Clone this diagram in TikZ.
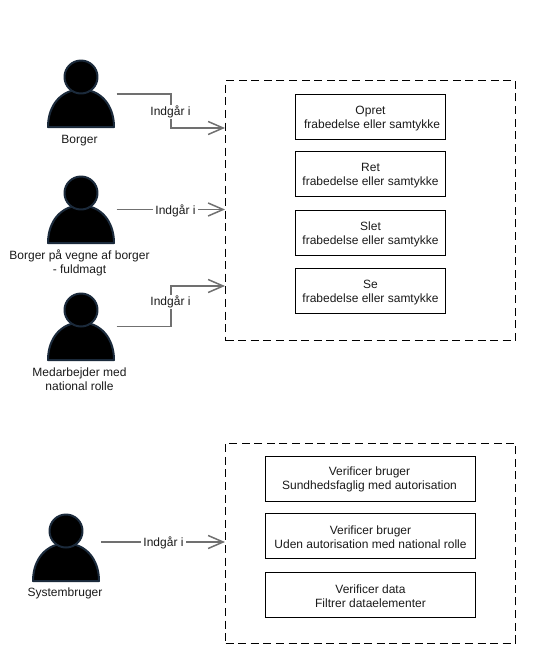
\documentclass[tikz,border=0pt]{standalone}
\usepackage{fontspec}
\setmainfont{Liberation Sans}
\usetikzlibrary{arrows.meta}
\definecolor{outl}{HTML}{1B2A3B}
\definecolor{conn}{HTML}{707070}
\definecolor{txt}{HTML}{1A1A1A}
\tikzset{
  x=1pt,y=-1pt,
  every node/.style={font=\fontsize{12}{14}\selectfont,text=txt,align=center,inner sep=0pt,outer sep=0pt},
  frame/.style={draw=black,line width=0.9pt,dash pattern=on 8pt off 4.6pt,minimum width=290pt},
  actionbox/.style={draw=black,line width=0.9pt,minimum height=45pt},
  smallbox/.style={actionbox,minimum width=150pt},
  widebox/.style={actionbox,minimum width=210pt},
  boxtext/.style={yshift=-1.6pt},
  lowtext/.style={yshift=-0.8pt},
  persona/.style={minimum width=71pt,minimum height=67pt},
  persbody/.style={fill=black,draw=outl,line width=2pt,line join=round},
  link/.style={draw=conn,line width=1.8pt,-{Straight Barb[length=15pt,width=13pt,line width=1.5pt]}},
  lbl/.style={fill=white,inner xsep=2pt,inner ysep=1pt},
}
\newcommand{\drawperson}[2]{%
  \path[persbody] (#1-33,#2+33.5) .. controls (#1-33,#2+12) and (#1-20,#2-4) .. (#1,#2-4)
    .. controls (#1+20,#2-4) and (#1+33,#2+12) .. (#1+33,#2+33.5) -- cycle;
  \path[persbody] (#1,#2-16.5) circle[radius=16.5];
}
\begin{document}
\begin{tikzpicture}
\useasboundingbox (0,0) rectangle (535,662);
% frames
\node[frame,minimum height=260pt] (frameA) at (370.5,210.5) {};
\node[frame,minimum height=200pt] (frameB) at (370.5,543) {};
% action boxes
\node[smallbox] (opret) at (370.5,117) {};
\node[smallbox] (ret) at (370.5,174) {};
\node[smallbox] (slet) at (370.5,233) {};
\node[smallbox] (se) at (370.5,291) {};
\node[widebox] (verA) at (370.5,479) {};
\node[widebox] (verB) at (370.5,536) {};
\node[widebox] (verC) at (370.5,595) {};
\node[boxtext] (opretT) at (opret.center) {Opret\\\ frabedelse eller samtykke};
\node[boxtext] (retT) at (ret.center) {Ret\\frabedelse eller samtykke};
\node[boxtext] (sletT) at (slet.center) {Slet\\frabedelse eller samtykke};
\node[boxtext] (seT) at (se.center) {Se\\frabedelse eller samtykke};
\node[lowtext,xshift=-1pt] (verAT) at (verA.center) {Verificer bruger\\Sundhedsfaglig med autorisation};
\node[lowtext] (verBT) at (verB.center) {Verificer bruger\\Uden autorisation med national rolle};
\node[lowtext] (verCT) at (verC.center) {Verificer data\\Filtrer dataelementer};
% persons
\drawperson{81}{93.5}
\drawperson{81}{209.5}
\drawperson{81}{326.5}
\drawperson{66}{547.5}
\node[persona] (borger) at (81,94) {};
\node[persona] (fuldmagt) at (81,209.5) {};
\node[persona] (medarb) at (81,326.5) {};
\node[persona] (system) at (66,547.5) {};
\node (borgerT) at (79.5,140.2) {Borger};
\node (fuldmagtT) at (79.5,262.7) {Borger på vegne af borger\\- fuldmagt};
\node (medarbT) at (79.5,379.7) {Medarbejder med\\national rolle};
\node (systemT) at (65,593.2) {Systembruger};
% connector ends
\coordinate (endA) at (225,128);
\coordinate (endB) at (225,209.5);
\coordinate (endC) at (225,286);
\coordinate (endD) at (225,542);
\coordinate (startD) at (101,542);
% connectors
\draw[link] (borger.east) -- (171,94) -- (171,128) -- (endA);
\draw[link] (fuldmagt.east) -- (endB);
\draw[link] (medarb.east) -- (171,326.5) -- (171,286) -- (endC);
\draw[link] (startD) -- (endD);
\node[lbl] (lblA) at (170.5,111.7) {Indgår i};
\node[lbl] (lblB) at (175.5,211) {Indgår i};
\node[lbl] (lblC) at (170.5,301.7) {Indgår i};
\node[lbl] (lblD) at (163.5,542.7) {Indgår i};
\end{tikzpicture}
\end{document}
